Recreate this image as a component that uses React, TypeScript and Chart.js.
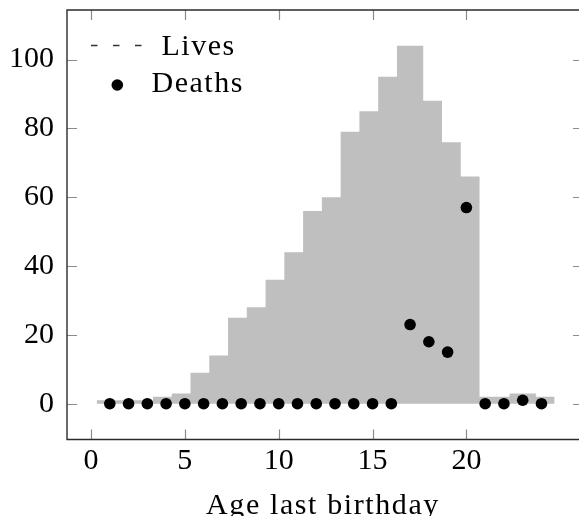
import { useEffect, useRef } from "react";
import { Chart, registerables } from "chart.js";

Chart.register(...registerables);

// ---- data ----
const ages = [1, 2, 3, 4, 5, 6, 7, 8, 9, 10, 11, 12, 13, 14, 15, 16, 17, 18, 19, 20, 21, 22, 23, 24];
const deaths = [0, 0, 0, 0, 0, 0, 0, 0, 0, 0, 0, 0, 0, 0, 0, 0, 23, 18, 15, 57, 0, 0, 1, 0];

// step histogram of lives: each value holds from its edge to the next edge
const livesBinEdges = [0.3, 1.3, 2.3, 3.3, 4.3, 5.3, 6.3, 7.3, 8.3, 9.3, 10.3, 11.3, 12.3, 13.3, 14.3, 15.3, 16.3, 17.7, 18.7, 19.7, 20.7, 22.3, 23.7, 24.7];
const lives = [1, 1, 1, 2, 3, 9, 14, 25, 28, 36, 44, 56, 60, 79, 85, 95, 104, 88, 76, 66, 2, 3, 2];

const xTicks = [0, 5, 10, 15, 20];
const yTicks = [0, 20, 40, 60, 80, 100];
const xLabel = "Age last birthday";
const legendLabels = ["Lives", "Deaths"];

const FONT = '"Liberation Serif", "Times New Roman", serif';
const FONT_SIZE = 30;

function zeroPadding(s: any) {
  s.paddingTop = 0;
  s.paddingBottom = 0;
  s.paddingLeft = 0;
  s.paddingRight = 0;
}

export default function App() {
  const canvasRef = useRef<HTMLCanvasElement | null>(null);

  useEffect(() => {
    const canvas = canvasRef.current;
    if (!canvas) return;

    const livesPoints = livesBinEdges.map((e, i) => ({
      x: e,
      y: lives[Math.min(i, lives.length - 1)],
    }));
    const deathPoints = ages.map((a, i) => ({ x: a, y: deaths[i] }));

    const framePlugin = {
      id: "frame",
      afterDatasetsDraw(chart: any) {
        const { ctx, chartArea } = chart;
        const { left, right, top, bottom } = chartArea;
        const xs = chart.scales.x;
        const ys = chart.scales.y;
        ctx.save();
        // inward ticks on all four sides
        ctx.strokeStyle = "#8a8a8a";
        ctx.lineWidth = 1.2;
        ctx.beginPath();
        for (const v of xTicks) {
          const px = Math.round(xs.getPixelForValue(v)) + 0.5;
          ctx.moveTo(px, bottom);
          ctx.lineTo(px, bottom - 10);
          ctx.moveTo(px, top);
          ctx.lineTo(px, top + 10);
        }
        for (const v of yTicks) {
          const py = Math.round(ys.getPixelForValue(v)) + 0.5;
          ctx.moveTo(left, py);
          ctx.lineTo(left + 10, py);
          ctx.moveTo(right + 4, py);
          ctx.lineTo(right - 6, py);
        }
        ctx.stroke();
        // axis frame (right side falls just outside the picture)
        ctx.strokeStyle = "#2b2b2b";
        ctx.lineWidth = 1.4;
        ctx.beginPath();
        ctx.moveTo(right + 4, top);
        ctx.lineTo(left, top);
        ctx.lineTo(left, bottom);
        ctx.lineTo(right + 4, bottom);
        ctx.stroke();

        // legend
        ctx.strokeStyle = "#333";
        ctx.lineWidth = 1.3;
        ctx.setLineDash([6.5, 15.5]);
        ctx.beginPath();
        ctx.moveTo(91, 45.5);
        ctx.lineTo(142, 45.5);
        ctx.stroke();
        ctx.setLineDash([]);
        ctx.fillStyle = "#000";
        ctx.beginPath();
        ctx.arc(117.3, 85, 5.8, 0, Math.PI * 2);
        ctx.fill();
        ctx.font = `${FONT_SIZE}px ${FONT}`;
        ctx.textAlign = "left";
        ctx.textBaseline = "alphabetic";
        (ctx as any).letterSpacing = "1.5px";
        ctx.fillText(legendLabels[0], 161.5, 55);
        ctx.fillText(legendLabels[1], 151.5, 92);

        // x axis title
        (ctx as any).letterSpacing = "1.6px";
        ctx.textAlign = "center";
        ctx.fillText(xLabel, 323, 514);
        (ctx as any).letterSpacing = "0px";
        ctx.restore();
      },
    };

    const chart = new Chart(canvas, {
      type: "scatter",
      data: {
        datasets: [
          {
            type: "line",
            label: legendLabels[0],
            data: livesPoints,
            stepped: true,
            showLine: true,
            fill: "origin",
            backgroundColor: "#bfbfbf",
            borderColor: "transparent",
            borderWidth: 0,
            pointRadius: 0,
            order: 2,
          } as any,
          {
            type: "scatter",
            label: legendLabels[1],
            data: deathPoints,
            backgroundColor: "#000",
            borderColor: "#000",
            pointRadius: 5.8,
            pointBorderWidth: 0,
            order: 1,
          },
        ],
      },
      options: {
        animation: false,
        responsive: false,
        devicePixelRatio: 1,
        layout: { autoPadding: false, padding: { top: 10, right: 0, left: 0, bottom: 0 } },
        plugins: {
          legend: { display: false },
          tooltip: { enabled: false },
        },
        scales: {
          x: {
            type: "linear",
            min: -1.28,
            max: 26.0,
            grid: { display: false, drawTicks: false },
            border: { display: false },
            ticks: {
              font: { family: FONT, size: FONT_SIZE },
              color: "#000",
              padding: 4,
              maxRotation: 0,
              autoSkip: false,
            },
            afterBuildTicks: (s: any) => {
              s.ticks = xTicks.map((v) => ({ value: v }));
            },
            afterFit: (s: any) => {
              s.height = 76.5;
              zeroPadding(s);
            },
          },
          y: {
            type: "linear",
            min: -10.4,
            max: 114.4,
            grid: { display: false, drawTicks: false },
            border: { display: false },
            ticks: {
              font: { family: FONT, size: FONT_SIZE },
              color: "#000",
              padding: 13,
              autoSkip: false,
            },
            afterBuildTicks: (s: any) => {
              s.ticks = yTicks.map((v) => ({ value: v }));
            },
            afterFit: (s: any) => {
              s.width = 67;
              zeroPadding(s);
            },
          },
        },
      },
      plugins: [framePlugin],
    });

    return () => chart.destroy();
  }, []);

  return (
    <div style={{ position: "absolute", left: 0, top: 0, width: 579, height: 516 }}>
      <canvas ref={canvasRef} width={579} height={516} style={{ display: "block" }} />
    </div>
  );
}
